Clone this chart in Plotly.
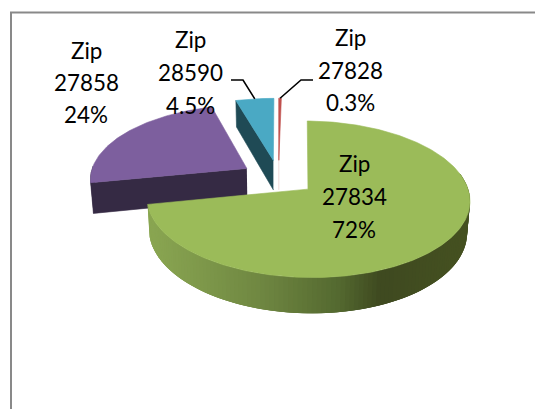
"""Exploded 3D pie of customers by zip code, drawn on plain pixel-sized axes."""

import math

import numpy as np
import plotly.graph_objects as go

# Slices run clockwise from 12 o'clock, in this order.
zips = ["27828", "27834", "27858", "28590"]
shares = [0.3, 71.6, 23.6, 4.5]
pct_labels = ["0.3%", "72%", "24%", "4.5%"]

top_colors = ["#C0504D", "#9BBB59", "#7D5F9E", "#4AA9C4"]
side_colors = ["#E8C4C3", None, "#352A44", "#1F4A55"]

# Centre x of each label and y of its three lines
label_x = [350.5, 354, 86, 190]
label_y = [[37, 70, 102], [163, 196, 229], [50, 82, 114], [39, 72, 105]]

# Rough perspective of the pie: centre, radii, foreshortening, thickness
CX, CY = 278.5, 177.5
R, S = 157, 74
K = 0.127
DEPTH = 30.5
EXPLODE = 0.24

# Shading of the green wall, left to right
WALL_X = [148, 250, 330, 372, 470]
WALL_RGB = [(138, 166, 82), (112, 136, 66), (84, 105, 48), (63, 74, 32), (70, 82, 32)]


def project(u, v, z=0.0):
    d = 1 - K * v
    x = R * u / d
    y = (S * v + z) / d
    return CX + x * (1 - 0.015 * z / DEPTH), CY + y


def slice_geometry():
    out = []
    start = 0.0
    for share in shares:
        end = start + share * 3.6
        mid = math.radians((start + end) / 2)
        out.append((start, end, EXPLODE * math.sin(mid), -EXPLODE * math.cos(mid)))
        start = end
    return out


def rim(deg, off_u, off_v, z=0.0):
    a = math.radians(deg)
    return project(off_u + math.sin(a), off_v - math.cos(a), z)


def add_poly(fig, pts, color, edge=0.6):
    fig.add_trace(
        go.Scatter(
            x=[p[0] for p in pts],
            y=[p[1] for p in pts],
            mode="lines",
            fill="toself",
            fillcolor=color,
            line=dict(color=color, width=edge),
            hoverinfo="skip",
        )
    )


def add_wedge(fig, i, geom):
    start, end, off_u, off_v = geom
    apex = project(off_u, off_v)
    apex_low = project(off_u, off_v, DEPTH)

    if i == 1:
        # only the outer wall of the big slice shows, shaded by x;
        # each strip overlaps the one before it so no seams appear
        angles = np.arange(78, end, 1.5).tolist() + [end]
        for a, b in zip(angles[:-1], angles[1:]):
            a0 = max(a - 3.0, 78)
            p0, p1 = rim(a, off_u, off_v), rim(b, off_u, off_v)
            quad = [rim(a0, off_u, off_v), p1, rim(b, off_u, off_v, DEPTH), rim(a0, off_u, off_v, DEPTH)]
            xm = (p0[0] + p1[0]) / 2
            rgb = [np.interp(xm, WALL_X, [c[j] for c in WALL_RGB]) for j in range(3)]
            add_poly(fig, quad, "rgb(%d,%d,%d)" % tuple(rgb), edge=0)
    else:
        corner = rim(start, off_u, off_v)
        corner_low = rim(start, off_u, off_v, DEPTH)
        add_poly(fig, [apex, corner, corner_low, apex_low], side_colors[i])
        if 90 < start < 270:
            arc = np.linspace(start, 272, 6)
            wall = [rim(a, off_u, off_v) for a in arc]
            wall += [rim(a, off_u, off_v, DEPTH) for a in arc[::-1]]
            add_poly(fig, wall, side_colors[i])

    steps = max(int(end - start), 2) + 1
    arc = [rim(a, off_u, off_v) for a in np.linspace(start, end, steps)]
    add_poly(fig, [apex] + arc + [apex], top_colors[i])


fig = go.Figure()
geoms = slice_geometry()

# back slices first, the green one sits in front of them
for i in [2, 3, 0, 1]:
    add_wedge(fig, i, geoms[i])

annotations = []
for i, code in enumerate(zips):
    lines = ["Zip", code, pct_labels[i]]
    for text, y in zip(lines, label_y[i]):
        annotations.append(
            dict(
                x=label_x[i],
                y=y,
                text=text,
                showarrow=False,
                xanchor="center",
                yanchor="middle",
                font=dict(family="Lato, Carlito, sans-serif", size=22.4, color="#000000"),
            )
        )

# Leader lines from the two small slices to their labels
for i, elbow, tail in [(3, (243, 80), (231, 80)), (0, (301, 80), (313, 80))]:
    start, end, off_u, off_v = geoms[i]
    tip = rim((start + end) / 2, off_u, off_v)
    fig.add_trace(
        go.Scatter(
            x=[tail[0], elbow[0], tip[0]],
            y=[tail[1], elbow[1], tip[1]],
            mode="lines",
            line=dict(color="#000000", width=1.6),
            hoverinfo="skip",
        )
    )

fig.update_layout(
    width=535,
    height=409,
    margin=dict(l=0, r=0, t=0, b=0),
    paper_bgcolor="#FFFFFF",
    plot_bgcolor="#FFFFFF",
    showlegend=False,
    annotations=annotations,
    shapes=[
        dict(type="line", x0=11, x1=11, y0=12, y1=409, line=dict(color="#898989", width=2)),
        dict(type="line", x0=10, x1=535, y0=12.5, y1=12.5, line=dict(color="#898989", width=2)),
    ],
)
fig.update_xaxes(range=[0, 535], visible=False)
fig.update_yaxes(range=[409, 0], visible=False)

fig.write_html(
    "out.html",
    config=dict(displayModeBar=False),
    post_script="document.body.style.margin='0';document.body.style.overflow='hidden';",
)
